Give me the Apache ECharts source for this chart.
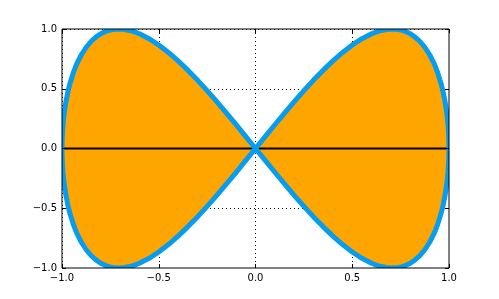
<!DOCTYPE html>
<html>
<head>
<meta charset="utf-8">
<script src="https://cdn.jsdelivr.net/npm/echarts@6/dist/echarts.min.js"></script>
<style>html,body{margin:0;padding:0;background:#fff}#c{width:499px;height:299px}</style>
</head>
<body>
<div id="c"></div>
<script>
// Curve: x positions and the two branches of the figure-eight
var curveX = [-1, -0.999, -0.995, -0.99, -0.98, -0.97, -0.96, -0.94, -0.93, -0.92, -0.9, -0.875, -0.85, -0.825, -0.8, -0.775, -0.75, -0.725, -0.7, -0.675, -0.65, -0.625, -0.6, -0.55, -0.5, -0.45, -0.4, -0.35, -0.3, -0.25, -0.2, -0.15, -0.1, -0.05,
  0, 0.05, 0.1, 0.15, 0.2, 0.25, 0.3, 0.35, 0.4, 0.45, 0.5, 0.55, 0.6, 0.625, 0.65, 0.675, 0.7, 0.725, 0.75, 0.775, 0.8, 0.825, 0.85, 0.875, 0.9, 0.92, 0.93, 0.94, 0.96, 0.97, 0.98, 0.99, 0.995, 0.999, 1];
var branchA = [0, -0.0893, -0.1987, -0.2793, -0.39, -0.4716, -0.5376, -0.6414, -0.6837, -0.7211, -0.7846, -0.8472, -0.8955, -0.9325, -0.96, -0.9795, -0.9922, -0.9987, -0.9998, -0.9961, -0.9879, -0.9758, -0.96, -0.9187, -0.866, -0.8037, -0.7332, -0.6557, -0.5724, -0.4841, -0.3919, -0.2966, -0.199, -0.0999,
  0, 0.0999, 0.199, 0.2966, 0.3919, 0.4841, 0.5724, 0.6557, 0.7332, 0.8037, 0.866, 0.9187, 0.96, 0.9758, 0.9879, 0.9961, 0.9998, 0.9987, 0.9922, 0.9795, 0.96, 0.9325, 0.8955, 0.8472, 0.7846, 0.7211, 0.6837, 0.6414, 0.5376, 0.4716, 0.39, 0.2793, 0.1987, 0.0893, 0];
var branchB = [0, 0.0893, 0.1987, 0.2793, 0.39, 0.4716, 0.5376, 0.6414, 0.6837, 0.7211, 0.7846, 0.8472, 0.8955, 0.9325, 0.96, 0.9795, 0.9922, 0.9987, 0.9998, 0.9961, 0.9879, 0.9758, 0.96, 0.9187, 0.866, 0.8037, 0.7332, 0.6557, 0.5724, 0.4841, 0.3919, 0.2966, 0.199, 0.0999,
  0, -0.0999, -0.199, -0.2966, -0.3919, -0.4841, -0.5724, -0.6557, -0.7332, -0.8037, -0.866, -0.9187, -0.96, -0.9758, -0.9879, -0.9961, -0.9998, -0.9987, -0.9922, -0.9795, -0.96, -0.9325, -0.8955, -0.8472, -0.7846, -0.7211, -0.6837, -0.6414, -0.5376, -0.4716, -0.39, -0.2793, -0.1987, -0.0893, 0];
var baseX = [-1, 1];
var baseY = [0, 0];
var xTicks = [-1.0, -0.5, 0.0, 0.5, 1.0];
var yTicks = [-1.0, -0.5, 0.0, 0.5, 1.0];

function pairs(xs, ys) { return xs.map(function (x, i) { return [x, ys[i]]; }); }
function fmt(v) { return v.toFixed(1).replace('-', '\u2212'); }

var W = 499, H = 299, GL = 62, GR = 50, GT = 29, GB = 31;
var chart = echarts.init(document.getElementById('c'), null, { renderer: 'canvas' });
var font = { fontFamily: 'DejaVu Sans', fontSize: 10, color: '#000' };
function axis(pos, ticks, gridIndex, zl, showTick, showLabel, showSplit) {
  return {
    type: 'value', gridIndex: gridIndex, position: pos, min: ticks[0], max: ticks[ticks.length - 1], interval: 0.5,
    zlevel: zl, z: zl ? 5 : 0,
    axisLine: { show: false, onZero: false },
    axisTick: { show: showTick, inside: true, length: 4, lineStyle: { color: '#000', width: 1 } },
    axisLabel: Object.assign({ show: showLabel, margin: 5, formatter: fmt }, font),
    splitLine: { show: showSplit, lineStyle: { color: '#000', width: 1, type: [1, 3] } }
  };
}
var mask = function (x, y, w, h) {
  return { type: 'rect', zlevel: 1, z: 0, silent: true, shape: { x: x, y: y, width: w, height: h }, style: { fill: '#fff' } };
};

chart.setOption({
  animation: false,
  grid: [
    { left: GL, right: GR, top: GT, bottom: GB, show: false, zlevel: 0, z: 0 },
    { left: GL, right: GR, top: GT, bottom: GB, show: true, borderColor: '#000', borderWidth: 1, backgroundColor: 'transparent', zlevel: 1, z: 5 }
  ],
  xAxis: [
    axis('bottom', xTicks, 0, 0, false, false, true),
    axis('bottom', xTicks, 1, 1, true, true, false),
    axis('top', xTicks, 1, 1, true, false, false)
  ],
  yAxis: [
    axis('left', yTicks, 0, 0, false, false, true),
    axis('left', yTicks, 1, 1, true, true, false),
    axis('right', yTicks, 1, 1, true, false, false)
  ],
  graphic: [
    mask(0, 0, W, GT),
    mask(0, H - GB, W, GB),
    mask(0, 0, GL, H),
    mask(W - GR, 0, GR, H)
  ],
  series: [
    { type: 'line', xAxisIndex: 0, yAxisIndex: 0, data: pairs(curveX, branchA), symbol: 'none', lineStyle: { width: 0, opacity: 0 }, areaStyle: { color: '#FFA500', opacity: 1 }, z: 1 },
    { type: 'line', xAxisIndex: 0, yAxisIndex: 0, data: pairs(curveX, branchB), symbol: 'none', lineStyle: { width: 0, opacity: 0 }, areaStyle: { color: '#FFA500', opacity: 1 }, z: 1 },
    { type: 'line', xAxisIndex: 0, yAxisIndex: 0, data: pairs(baseX, baseY), symbol: 'none', lineStyle: { width: 2, color: '#000' }, z: 2 },
    { type: 'line', xAxisIndex: 0, yAxisIndex: 0, data: pairs(curveX, branchA), symbol: 'none', lineStyle: { width: 5, color: '#069CEF', join: 'round' }, z: 3 },
    { type: 'line', xAxisIndex: 0, yAxisIndex: 0, data: pairs(curveX, branchB), symbol: 'none', lineStyle: { width: 5, color: '#069CEF', join: 'round' }, z: 3 }
  ]
});
</script>
</body>
</html>
